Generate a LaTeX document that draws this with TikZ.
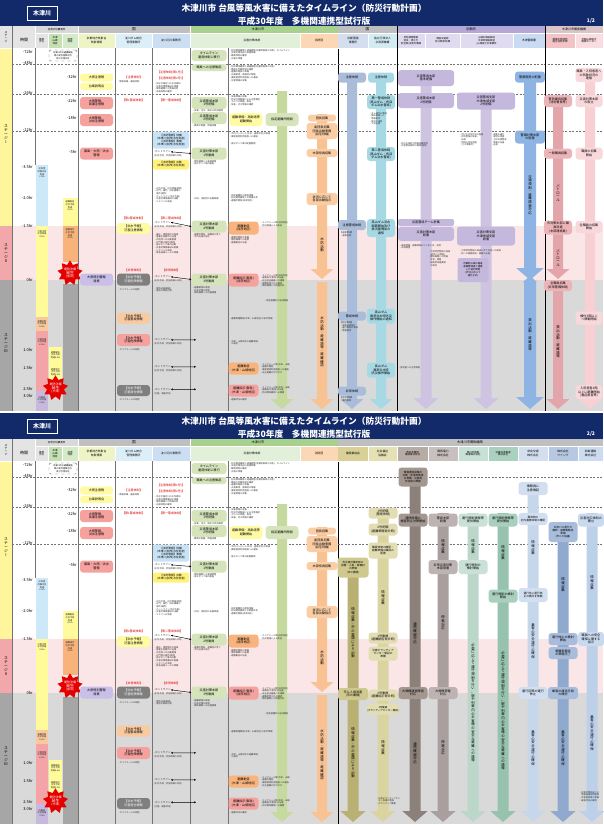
\documentclass[tikz,border=0pt]{standalone}
\usepackage{fontspec}
\setmainfont{Noto Sans CJK JP}
\usetikzlibrary{shapes.geometric,arrows.meta}

\definecolor{navy}{HTML}{122A6A}
\definecolor{sOneBar}{HTML}{FFF59A}
\definecolor{sTwoBg}{HTML}{FBE6E7}
\definecolor{sTwoBar}{HTML}{F2A7AA}
\definecolor{sThreeBg}{HTML}{D9D9D9}
\definecolor{sThreeBar}{HTML}{A6A6A6}
\definecolor{gLight}{HTML}{D9D9D9}
\definecolor{gGray}{HTML}{BFBFBF}
\definecolor{gGreen}{HTML}{A9D18E}
\definecolor{gPurple}{HTML}{B4A7D6}
\definecolor{gPink}{HTML}{D9C4C7}
\definecolor{hGray}{HTML}{E4E4E4}
\definecolor{hGreen}{HTML}{C5E0B3}
\definecolor{hGreenL}{HTML}{D5EAC8}
\definecolor{hYG}{HTML}{EEF4C6}
\definecolor{hCyan}{HTML}{DCEFF8}
\definecolor{hBlue}{HTML}{CCDFF2}
\definecolor{hLGreen}{HTML}{E2EFD9}
\definecolor{hOrange}{HTML}{FBD7B5}
\definecolor{hRoad}{HTML}{D5DEEF}
\definecolor{hWater}{HTML}{D3ECF3}
\definecolor{hPref}{HTML}{E1DBF0}
\definecolor{hPolice}{HTML}{C9DBF3}
\definecolor{hFire}{HTML}{F2C4C7}
\definecolor{hHosp}{HTML}{F9DDE0}
\definecolor{bYellow}{HTML}{FFFBA3}
\definecolor{bSalmon}{HTML}{F5A29F}
\definecolor{bLav}{HTML}{C9BFE8}
\definecolor{bGreen}{HTML}{D5E4BA}
\definecolor{bLBlue}{HTML}{C8E3F5}
\definecolor{bGold}{HTML}{FFF27A}
\definecolor{bDark}{HTML}{7F7F7F}
\definecolor{bPeach}{HTML}{F9C9A0}
\definecolor{bOrange}{HTML}{F8B47C}
\definecolor{aGreen}{HTML}{C6D99E}
\definecolor{aOrange}{HTML}{F9C293}
\definecolor{bOrangeL}{HTML}{FACDA5}
\definecolor{aRoad}{HTML}{A9BDDA}
\definecolor{aWater}{HTML}{A7D9E4}
\definecolor{aPref}{HTML}{CEC4E2}
\definecolor{bPref}{HTML}{C4B8DC}
\definecolor{aPolice}{HTML}{8DB4E2}
\definecolor{aFire}{HTML}{E4A5AA}
\definecolor{bFire}{HTML}{EBB4B8}
\definecolor{aHosp}{HTML}{F8D0D4}
\definecolor{bHosp}{HTML}{F9D8DB}
\definecolor{lvBlue}{HTML}{CDE8F8}
\definecolor{lvYellow}{HTML}{FFFB9A}
\definecolor{lvPeach}{HTML}{F9C99E}
\definecolor{lvPink}{HTML}{F4A3A7}
\definecolor{lvLilac}{HTML}{C7B9DD}
\definecolor{lvOrange}{HTML}{F8B37A}
\definecolor{lvGray}{HTML}{A6A6A6}
\definecolor{aOlive}{HTML}{B9B173}
\definecolor{bOlive}{HTML}{CFC88F}
\definecolor{hOlive}{HTML}{D8D097}
\definecolor{aKhaki}{HTML}{DAD4A0}
\definecolor{bKhaki}{HTML}{E3DDB3}
\definecolor{hKhaki}{HTML}{E6E1B5}
\definecolor{aTaupe}{HTML}{8C807B}
\definecolor{bTaupe}{HTML}{A3978F}
\definecolor{hTaupe}{HTML}{B7ABA6}
\definecolor{aMauve}{HTML}{A99F9F}
\definecolor{bMauve}{HTML}{BDB3B3}
\definecolor{hMauve}{HTML}{C8BFBF}
\definecolor{aMint}{HTML}{BBD7CA}
\definecolor{bMint}{HTML}{C9E1D6}
\definecolor{hMint}{HTML}{C8E1D6}
\definecolor{aTeal}{HTML}{96C2AE}
\definecolor{bTeal}{HTML}{A9CFBE}
\definecolor{hTeal}{HTML}{AAD1C0}
\definecolor{aPale}{HTML}{C7D7EB}
\definecolor{bPale}{HTML}{D2DFF0}
\definecolor{hPale}{HTML}{D3DFEF}
\definecolor{aSteel}{HTML}{8FA9CF}
\definecolor{bSteel}{HTML}{A8BDDB}
\definecolor{hSteel}{HTML}{B7C9E2}
\definecolor{aSky}{HTML}{BDD0EA}
\definecolor{bSky}{HTML}{C9D9EE}
\definecolor{hSky}{HTML}{CDDBEF}

\tikzset{
 rbox/.style={rounded corners=3pt, inner sep=0.2pt, align=center, text=black, font=\fontsize{3.1}{3.6}\selectfont},
 smalltxt/.style={anchor=north west, inner sep=0pt, align=left, text=black!80, font=\fontsize{2.2}{2.7}\selectfont},
 ctxt/.style={inner sep=0pt, align=center, text=black!85, font=\fontsize{2.2}{2.7}\selectfont},
 redlab/.style={inner sep=0pt, text=red!85!black, font=\fontsize{3}{3.4}\selectfont, align=center},
 hdtxt/.style={inner sep=0pt, align=center, font=\fontsize{2.8}{3.3}\selectfont},
 timelab/.style={anchor=east, inner sep=0pt, font=\fontsize{4}{4}\selectfont},
 vtx/.style={inner sep=0pt, font=\fontsize{3.4}{3.4}\selectfont},
 hotline/.style={{Stealth[length=2pt,width=2pt]}-{Stealth[length=2pt,width=2pt]}, line width=0.45pt},
 dashline/.style={dash pattern=on 2pt off 1.5pt, draw=black!55, line width=0.45pt},
 colline/.style={draw=black!55, line width=0.6pt},
 blkline/.style={draw=black, line width=0.8pt},
 burst/.style={star, star points=9, star point ratio=1.5, fill=red!90!black, draw=none, inner sep=0pt, minimum size=24pt, text=white, align=center, font=\fontsize{3}{3.3}\selectfont},
}

\newcounter{autoN}
\newcommand\kzrb[6]{\node[rbox,#1,minimum width=#4pt,minimum height=#5pt] (#2) at (#3) {#6};}
\newcommand\kztx[3]{\stepcounter{autoN}\node[smalltxt] (n\theautoN) at (#1,#2) {#3};}
\newcommand\kzct[3]{\stepcounter{autoN}\node[ctxt] (n\theautoN) at (#1,#2) {#3};}
\newcommand\kzarr[5]{\fill[#1] ({#2-#5},#3) -- ({#2+#5},#3) -- ({#2+#5},{#4-2*#5}) -- ({#2+2.3*#5},{#4-2*#5}) -- (#2,#4) -- ({#2-2.3*#5},{#4-2*#5}) -- ({#2-#5},{#4-2*#5}) -- cycle;}
\def\kzvtloop#1{\ifx\kzvtend#1\else\hbox to 1em{\hss#1\hss}\expandafter\kzvtloop\fi}
\newcommand\kzvtext[1]{\vbox{\baselineskip=1.06em\lineskiplimit=-20pt\lineskip=0pt\kzvtloop#1\kzvtend}}
\newcommand\kzvt[4]{\node[vtx,#1] (#2) at (#3) {\kzvtext{#4}};}

% ---------------- common left part of one page ----------------
\newcommand\kzleft[2]{%
 \fill[white] (0,26) rectangle (603,411);
 \fill[sTwoBg] (12,226) rectangle (603,280);
 \fill[sThreeBg] (12,280) rectangle (603,411);
 \fill[sOneBar] (0,48) rectangle (12,226);
 \fill[sTwoBar] (0,226) rectangle (12,280);
 \fill[sThreeBar] (0,280) rectangle (12,411);
 \kzvt{font=\fontsize{3.8}{3.8}\selectfont}{#1stA}{6,134}{ステージⅠ}
 \kzvt{font=\fontsize{3.8}{3.8}\selectfont}{#1stB}{6,253}{ステージⅡ}
 \kzvt{font=\fontsize{3.8}{3.8}\selectfont}{#1stC}{6,343}{ステージⅢ}
 % title bar
 \fill[navy] (0,0) rectangle (603,26);
 \node[draw=white, line width=0.6pt, text=white, font=\fontsize{6}{6}\selectfont\bfseries, minimum width=30pt, minimum height=14pt, inner sep=0pt] (#1logo) at (42,13) {木津川};
 \node[text=white, font=\fontsize{8.7}{12.5}\selectfont\bfseries, align=center, inner sep=0pt] (#1title) at (304,14.5) {木津川市\ 台風等風水害に備えたタイムライン（防災行動計画）\\平成30年度\quad 多機関連携型試行版};
 \node[text=white, font=\fontsize{5}{5}\selectfont\bfseries, inner sep=0pt] (#1pg) at (591,21) {#2};
 % header
 \fill[gLight] (0,26) rectangle (78,48);
 \fill[hGray] (0,26) rectangle (35,48);
 \fill[gGray] (78,26) rectangle (190,33);
 \fill[gGreen] (190,26) rectangle (338,33);
 \fill[hGray] (35,33) rectangle (48,48);
 \fill[hGreen] (48,33) rectangle (62,48);
 \fill[hGreenL] (62,33) rectangle (78,48);
 \fill[hYG] (78,33) rectangle (115,48);
 \fill[hCyan] (115,33) rectangle (152,48);
 \fill[hBlue] (152,33) rectangle (190,48);
 \fill[hLGreen] (190,33) rectangle (300,48);
 \fill[hOrange] (300,33) rectangle (338,48);
 \draw[white, line width=0.8pt] (12,26)--(12,48) (35,26)--(35,48) (78,26)--(78,48) (115,33)--(115,48) (152,33)--(152,48) (190,26)--(190,48) (300,33)--(300,48) (48,33)--(48,48) (62,33)--(62,48) (35,33)--(338,33) (0,48)--(338,48);
 \kzvt{font=\fontsize{2.8}{2.8}\selectfont}{#1hSt}{6,37}{ステージ}
 \node[hdtxt, font=\fontsize{4}{4}\selectfont] (#1hTime) at (24,40) {時間};
 \node[hdtxt, font=\fontsize{2.5}{2.5}\selectfont] (#1hKamo) at (56.5,29.5) {加茂水位観測所};
 \node[hdtxt, font=\fontsize{3.6}{3.6}\selectfont] (#1hKuni) at (134,29.5) {国};
 \node[hdtxt, font=\fontsize{3.2}{3.2}\selectfont] (#1hCity) at (258,29.5) {木津川市};
 \node[hdtxt, font=\fontsize{2.5}{2.9}\selectfont] (#1hKijun) at (41.5,40.5) {基準\\水位};
 \node[hdtxt, font=\fontsize{2.5}{2.9}\selectfont] (#1hKizu) at (55,40.5) {木津\\山城\\地区};
 \node[hdtxt, font=\fontsize{2.5}{2.9}\selectfont] (#1hKamoC) at (70,40.5) {加茂\\地区};
 \node[hdtxt] (#1hMet) at (96.5,40.5) {京都地方気象台\\気象情報};
 \node[hdtxt] (#1hDam) at (133.5,40.5) {淀川ダム統合\\管理事務所};
 \node[hdtxt] (#1hRiver) at (171,40.5) {淀川河川事務所};
 \node[hdtxt] (#1hHQ) at (252,40.5) {災害対策本部};
 \node[hdtxt] (#1hFire) at (319,40.5) {消防団};
 % lines
 \draw[colline] (12,26) -- (12,411);
 \draw[colline] (35,48) -- (35,165);
 \foreach \xx in {78,115,152,190,228} {\draw[colline] (\xx,48) -- (\xx,411);}
 \draw[blkline] (338,26) -- (338,411);
 \foreach \yy in {64,94,131} {\draw[dashline] (12,\yy) -- (603,\yy);}
 % time labels
 \node[timelab] (#1t1) at (33,52) {-72hr};
 \node[timelab] (#1t2) at (33,63) {-48hr};
 \node[timelab] (#1t3) at (77,77) {-32hr};
 \node[timelab] (#1t4) at (33,93) {-24hr};
 \node[timelab] (#1t5) at (77,101) {-22hr};
 \node[timelab] (#1t6) at (77,118) {-18hr};
 \node[timelab] (#1t7) at (33,130) {-12hr};
 \node[timelab] (#1t8) at (77,152) {-5hr};
 \node[timelab] (#1t9) at (33,167) {-3.5hr};
 \node[timelab] (#1t10) at (33,198) {-2.0hr};
 \node[timelab] (#1t11) at (33,226) {-1.5hr};
 \node[timelab] (#1t12) at (33,280) {0hr};
 \node[timelab] (#1t13) at (33,350) {1.0hr};
 \node[timelab] (#1t14) at (33,368) {1.5hr};
 \node[timelab] (#1t15) at (33,389) {2.5hr};
 \node[timelab] (#1t16) at (33,396) {3.0hr};
 % water level columns
 \node[draw=black!60, dashed, rounded corners=1.5pt, minimum width=28pt, minimum height=11pt, inner sep=0pt, align=center, font=\fontsize{2.2}{2.7}\selectfont] (#1crit) at (63,55.5) {木津川市の避難勧告\\等の発令基準水位\\及び予測水位};
 \fill[lvBlue] (36,165) rectangle (48,226);
 \kzct{42}{173}{水防団\\待機水位\\到達\\2.5m}
 \fill[lvYellow] (36,226) rectangle (48,317);
 \kzct{42}{234}{氾濫注意\\水位到達\\4.5m}
 \fill[lvPeach] (36,317) rectangle (48,331);
 \kzct{42}{324}{避難判断\\水位到達\\5.0m}
 \fill[lvPink] (36,331) rectangle (48,391);
 \kzct{42}{342}{氾濫危険\\水位到達\\6.0m}
 \fill[lvLilac] (36,391) rectangle (48,411);
 \kzct{42}{400}{計画高\\水位到達\\9.0m}
 \fill[lvYellow] (49,347) rectangle (62,381);
 \kzct{55.5}{355}{避難勧告\\水位予測\\到達8.6m}
 \kzct{55.5}{372}{避難指示\\水位予測\\到達9.0m}
 \fill[lvYellow] (63,198) rectangle (77.5,226);
 \kzct{70}{206}{避難勧告\\水位予測\\到達\\4.1m}
 \fill[lvOrange] (63,226) rectangle (77.5,262);
 \kzct{70}{234}{避難指示\\水位予測\\到達\\4.5m}
 \fill[lvGray] (63,284) rectangle (77.5,411);
 \node[burst] (#1burstA) at (70,273) {堤防決壊\\{\fontsize{4}{4}\selectfont 発生}\\(加茂)};
 \node[burst, minimum size=21pt] (#1burstB) at (55.5,388) {堤防決壊\\{\fontsize{4}{4}\selectfont 発生}\\(木津)};
 % meteorological
 \kzrb{fill=bYellow}{#1m1}{96.5,77.5}{33}{8}{大雨注意報}
 \kzrb{fill=bYellow}{#1m2}{96.5,86.5}{33}{7}{台風説明会}
 \kzrb{fill=bSalmon}{#1m3}{96.5,103}{33}{12}{大雨警報、\\高潮注意報}
 \kzrb{fill=bSalmon}{#1m4}{96.5,120}{33}{12}{大雨警報、\\洪水注意報}
 \kzrb{fill=bSalmon}{#1m5}{96.5,153.5}{33}{12}{暴風・大雨・洪水\\警報}
 \kzrb{fill=bLav}{#1m6}{96.5,279.5}{33}{12}{大雨特別警報\\発表}
 % dam office
 \node[redlab] (#1d1) at (133.5,77) {【注意体制】};
 \kztx{117}{80.5}{・情報収集・連絡体制}
 \node[redlab] (#1d2) at (133.5,100) {【第1警戒体制】};
 \node[redlab] (#1d3) at (133.5,218) {【第2警戒体制】};
 \kzrb{fill=bYellow}{#1d4}{133.5,228.5}{33}{11}{【洪水予報】\\氾濫注意情報}
 \node[redlab] (#1d5) at (133.5,270) {【非常体制】};
 \kzrb{fill=bDark,text=white}{#1d6}{133.5,279.5}{33}{12}{【洪水予報】\\氾濫危険情報}
 \kztx{119}{288}{-エリアメールの配信}
 \kzrb{fill=bPeach}{#1d7}{133.5,318}{33}{11}{【洪水予報】\\氾濫警戒情報}
 \kzrb{fill=bSalmon}{#1d8}{133.5,340}{33}{12}{【洪水予報】\\氾濫危険情報}
 \kztx{119}{348}{-エリアメールの配信}
 \kzrb{fill=bDark,text=white}{#1d9}{133.5,390.5}{33}{11}{【洪水予報】\\氾濫発生情報}
 \kztx{119}{398.5}{-エリアメールの配信}
 % city HQ boxes
 \kzrb{fill=bGreen}{#1q1}{209,55.5}{35}{11}{タイムライン\\運用体制に移行}
 \kzrb{fill=bGreen}{#1q2}{209,67.5}{35}{7}{職員への注意喚起}
 \kzrb{fill=bGreen}{#1q3}{209,103}{35}{12}{災害警戒本部\\1号配備}
 \kzrb{fill=bGreen}{#1q4}{209,118}{35}{12}{災害警戒本部\\2号配備}
 \kzrb{fill=bGreen}{#1q5}{209,153.5}{35}{12}{災害対策本部\\1号動員}
 \kzrb{fill=bGreen}{#1q6}{209,226.5}{35}{12}{災害対策本部\\2号動員}
 \kzrb{fill=bGreen}{#1q7}{209,279.5}{35}{12}{災害対策本部\\3号動員}
 \kztx{192}{109.5}{・気象、河川、降水の状況確認}
 \kztx{192}{124.5}{・職員の配置、情報収集}
 \kztx{192}{160}{・関係機関との連絡調整\\・排水ポンプ場の運転}
 \kztx{192}{197}{・水防・消防団の出動準備}
 \kztx{192}{233}{・避難所開設、避難者の受入\\・市内巡視の強化}
 \kztx{192}{286.5}{・避難誘導の実施\\・応急対策の実施\\・関係機関への応援要請}
 % river office
 \node[redlab] (#1r1) at (171,73) {【注意体制(第1号)】};
 \node[redlab] (#1r2) at (171,78.5) {【注意体制(第2号)】};
 \kztx{154}{82.5}{・洪水予報河川の水位周知\\・災害対策用機械の準備\\・関係機関との情報共有\\・巡視体制の確認}
 \node[redlab] (#1r3) at (171,100) {【第一警戒体制】};
 \kzrb{fill=bLBlue, rounded corners=2pt, font=\fontsize{2.7}{3.1}\selectfont}{#1r4}{171,140}{36}{17}{【水防警報】待機\\(木津川(加茂)水位到達)\\【水防警報】準備\\(木津川(加茂)水位到達)}
 \node[smalltxt, font=\fontsize{2.6}{2.6}\selectfont] (#1hl1) at (154,150.5) {-ホットライン};
 \draw[hotline] (#1hl1.east) -- (#1q5.west);
 \kztx{154}{154.5}{(水位予測、状況認識の共有)}
 \kzrb{fill=bGold, rounded corners=2pt, font=\fontsize{2.7}{3.1}\selectfont}{#1r5}{171,164.5}{36}{10}{【水防警報】出動\\(木津川(加茂)水位到達)}
 \kztx{154}{187}{・水位予測、水位情報(随時)\\・水門、樋門、排水機場の\\　操作(随時)\\・ホットライン(洪水予報)\\・災害対策用機械の出動\\・リエゾンの派遣}
 \node[redlab] (#1r6) at (171,218) {【第二警戒体制】};
 \node[smalltxt, font=\fontsize{2.6}{2.6}\selectfont] (#1hl2) at (154,221) {-ホットライン};
 \draw[hotline] (#1hl2.east) -- (#1q6.west);
 \kztx{154}{225}{(水位予測、状況認識の共有)}
 \kztx{154}{233}{・漏水、侵食箇所の監視\\・重要水防箇所の巡視\\・水防団への出動要請\\・水門等の操作(随時)\\・排水ポンプ車の出動\\・災害対策用機械の配備\\・リエゾンの派遣\\・緊急速報メールの準備}
 \node[redlab] (#1r7) at (171,270) {【非常体制】};
 \node[smalltxt, font=\fontsize{2.6}{2.6}\selectfont] (#1hl3) at (154,275.5) {-ホットライン};
 \draw[hotline] (#1hl3.east) -- (#1q7.west);
 \kztx{154}{279.5}{(水位予測、状況認識の共有)}
 \kztx{154}{287}{・堤防巡視(継続)\\・堤防の緊急対策}
 \node[smalltxt, font=\fontsize{2.6}{2.6}\selectfont] (#1hl4) at (154,338.5) {-ホットライン};
 \coordinate (#1hx4) at (196,339.8);
 \draw[hotline] (#1hl4.east) -- (#1hx4);
 \kztx{154}{342.5}{(水位予測、状況認識の共有)}
 \node[smalltxt, font=\fontsize{2.6}{2.6}\selectfont] (#1hl5) at (154,365.5) {-ホットライン};
 \coordinate (#1hx5) at (196,366.8);
 \draw[hotline] (#1hl5.east) -- (#1hx5);
 \kztx{154}{369.5}{(水位予測、状況認識の共有)}
 \node[smalltxt, font=\fontsize{2.6}{2.6}\selectfont] (#1hl6) at (154,388) {-ホットライン};
 \coordinate (#1hx6) at (196,389.3);
 \draw[hotline] (#1hl6.east) -- (#1hx6);
 \kztx{154}{392}{(氾濫、被害状況)}
 % city HQ text column and evacuation
 \kzarr{aGreen}{282}{91}{409}{5}
 \kzrb{fill=bYellow, rounded corners=3.5pt}{#1e1}{246,119.5}{33}{13}{避難準備・高齢者等\\避難開始}
 \kzrb{fill=bGreen, rounded corners=3.5pt}{#1e2}{282,119.5}{33}{13}{指定避難所開設}
 \kzrb{fill=bOrange}{#1e3}{243.5,228}{30}{13}{避難勧告\\(加茂地区)}
 \kzrb{fill=bSalmon}{#1e4}{243.5,280}{30}{13}{避難指示(緊急)\\(加茂地区)}
 \kzrb{fill=bOrange}{#1e5}{243.5,368.5}{30}{12}{避難勧告\\(木津・山城地区)}
 \kzrb{fill=bSalmon}{#1e6}{243.5,390.5}{30}{12}{避難指示(緊急)\\(木津・山城地区)}
 \kztx{229}{49}{・防災関係機関と連絡調整(気象情報等の共有)、タイムライン\\・災害対策本部の設置準備\\・職員体制の確認\\・広報の準備}
 \kztx{229}{65.5}{・防災関係機関と連絡調整(気象情報等の共有)\\・職員の参集体制の確認\\・避難所開設の準備\\・広報車両、資機材の準備\\・要配慮者利用施設への連絡\\・災害情報の収集}
 \kztx{229}{95.5}{・気象情報の収集\\・防災行政無線による注意喚起\\・土のうの準備、配布\\・気象、河川情報の確認}
 \kztx{229}{132.5}{・市内パトロール(水位・道路状況)の実施\\・要配慮者利用施設への連絡}
 \kztx{229}{142}{・排水ポンプ車の配置要請}
 \kztx{229}{194}{・指定避難所の開設準備\\・防災関係機関との情報共有\\・避難所開設(加茂地区)}
 \kztx{260}{221.5}{・エリアメール等(加茂地区)\\・防災無線による放送}
 \kztx{229}{236}{・避難所開設の準備\\・関係機関との連携\\・避難勧告の伝達}
 \kztx{260}{274}{・エリアメール等(加茂地区)\\・避難指示(緊急)の伝達\\・自主防災組織への連絡\\・避難者受入れの確認\\・関係機関との情報共有}
 \kztx{264}{299}{・指定避難所の追加開設}
 \kztx{229}{317}{・避難準備情報(木津・山城地区)の発令準備}
 \kztx{229}{340}{・木津、山城地区の避難準備\\　の検討}
 \kztx{260}{363}{・エリアメール等(木津・山城)\\・避難所開設\\・要配慮者利用施設への連絡\\・自主避難の呼びかけ}
 \kztx{260}{386}{・エリアメール等(木津・山城)\\・避難指示(緊急)の伝達\\・防災関係機関への要請}
 \kztx{229}{398}{・避難状況の確認}
 % fire brigade
 \kzarr{aOrange}{322}{114}{279}{5}
 \kzarr{aOrange}{322}{282}{409}{5}
 \kzrb{fill=bOrangeL}{#1f1}{322,118}{28}{7}{団長招集}
 \kzrb{fill=bOrangeL}{#1f2}{322,131}{31}{16}{副団長招集\\団長出動準備\\(自宅待機)}
 \kzrb{fill=bOrangeL}{#1f3}{322,153}{31}{8}{本部役員招集}
 \kzrb{fill=bOrangeL}{#1f4}{322,199}{31}{12}{状況に応じて\\各部出動指示}
 \kzvt{}{#1f5}{322,245}{水防活動}
 \kzvt{}{#1f6}{322,342}{水防活動・避難誘導・避難確認}
}

% ---------------- right part, page 1 ----------------
\newcommand\kzrightA{%
 \fill[gGray] (338,26) rectangle (397,33);
 \fill[gPurple] (397,26) rectangle (545,33);
 \fill[gPink] (545,26) rectangle (603,33);
 \fill[hRoad] (338,33) rectangle (368,48);
 \fill[hWater] (368,33) rectangle (397,48);
 \fill[hPref] (397,33) rectangle (513,48);
 \fill[hPolice] (513,33) rectangle (545,48);
 \fill[hFire] (545,33) rectangle (575,48);
 \fill[hHosp] (575,33) rectangle (603,48);
 \draw[white, line width=0.8pt] (368,33)--(368,48) (397,26)--(397,48) (425,33)--(425,48) (460,33)--(460,48) (513,33)--(513,48) (545,26)--(545,48) (575,33)--(575,48) (338,33)--(603,33) (338,48)--(603,48);
 \node[hdtxt, font=\fontsize{3.6}{3.6}\selectfont] (hKuniR) at (367.5,29.5) {国};
 \node[hdtxt, font=\fontsize{3.2}{3.2}\selectfont] (hPrefG) at (471,29.5) {京都府};
 \node[hdtxt, font=\fontsize{3}{3}\selectfont] (hRelA) at (574,29.5) {木津川市関係機関};
 \node[hdtxt] (hRoadT) at (353,40.5) {京都国道\\事務所};
 \node[hdtxt] (hWaterT) at (382.5,40.5) {独立行政法人\\水資源機構};
 \node[hdtxt, font=\fontsize{2.4}{2.8}\selectfont] (hPrefA) at (411,40.5) {府危機管理部\\防災・原子力\\安全課/災害対策課};
 \node[hdtxt, font=\fontsize{2.4}{2.8}\selectfont] (hPrefB) at (442.5,40.5) {建設交通部\\河川課/砂防課};
 \node[hdtxt, font=\fontsize{2.4}{2.8}\selectfont] (hPrefC) at (486.5,40.5) {山城広域振興局\\木津地域振興室\\/山城南土木事務所};
 \node[hdtxt] (hPolT) at (529,40.5) {木津警察署};
 \node[hdtxt, font=\fontsize{2.5}{2.9}\selectfont] (hFireT) at (560,40.5) {相楽中部消防\\組合消防本部};
 \node[hdtxt, font=\fontsize{2.5}{2.9}\selectfont] (hHospT) at (589,40.5) {京都山城総合\\医療センター};
 \draw[blkline] (397,26) -- (397,411);
 \draw[blkline] (545,26) -- (545,411);
 % road office
 \kzarr{aRoad}{352}{78}{409}{5}
 \kzrb{fill=aRoad}{ro1}{352,77.5}{28}{10}{注意体制}
 \kzrb{fill=aRoad}{ro2}{352,225}{28}{10}{注意警戒体制}
 \kztx{340}{231.5}{【道路警戒】\\・道路巡回}
 \kzrb{fill=aRoad}{ro3}{352,316}{28}{9}{警戒体制}
 \kztx{340}{321.5}{【防災警戒】\\・道路巡回強化\\・通行規制の準備\\・情報提供}
 \kzrb{fill=aRoad}{ro4}{352,391}{28}{9}{非常体制}
 \kztx{340}{396.5}{【非常体制】\\・通行規制}
 % water resources
 \kzarr{aWater}{381}{78}{409}{5}
 \kzrb{fill=aWater}{wa1}{381,77.5}{26}{10}{注意体制}
 \kzrb{fill=aWater}{wa2}{381,102}{28}{14}{第一警戒体制\\(高山ダム・布目\\ダム洪水警戒)}
 \kztx{369}{112}{・ダム操作の準備\\・関係機関への\\　情報提供\\・放流の通知\\・下流巡視}
 \kzrb{fill=aWater}{wa3}{381,154}{28}{14}{第二警戒体制\\(高山ダム・布目\\ダム洪水警戒)}
 \kzrb{fill=aWater}{wa4}{381,228}{28}{18}{高山ダム洪水\\調節開始及び\\放流量増加の\\通知}
 \kzrb{fill=aWater}{wa5}{381,316}{28}{15}{高山ダム\\異常洪水時防災\\操作開始の通知}
 \kzrb{fill=aWater}{wa6}{381,370}{28}{15}{高山ダム\\異常洪水時\\防災操作開始}
 \kztx{398}{366}{・放流量への注意喚起}
 % prefecture
 \kzarr{aPref}{426}{80}{409}{5.5}
 \kzarr{aPref}{486}{100}{409}{5.5}
 \kzrb{fill=bPref}{pf1}{426,78}{56}{16}{災害警戒本部\\基本配備}
 \kzrb{fill=bPref}{pf2}{426,100.5}{56}{15}{災害警戒本部\\2号配備}
 \kzrb{fill=bPref}{pf3}{486,101}{58}{17}{災害警戒支部\\木津地域支部\\2号配備}
 \kztx{399}{142}{・府の広域的な情報収集体制\\・災害警戒体制の確認(随時)}
 \kztx{459}{133}{・河川の水位状況の監視\\・水防警報の発表、\\　伝達\\・地域の状況把握\\　(土木事務所)}
 \kztx{491}{133}{・道路の通行\\　規制の実施\\・土砂災害警戒\\　情報の伝達\\・巡視}
 \kzrb{fill=bPref, rounded corners=2pt}{pf4}{426,222.5}{56}{7}{災害警戒チーム参集}
 \kzrb{fill=bPref}{pf5}{426,234}{56}{14}{災害対策本部\\設置}
 \kzrb{fill=bPref}{pf6}{486,236}{58}{19}{災害対策支部\\木津地域支部\\設置}
 \kztx{399}{244}{・被害情報、避難情報のとりまとめ、発信\\・広域調整}
 \kztx{428}{250.5}{・大雨特別警報の発表\\　(府民への周知)\\・関係機関との情報\\　共有、調整\\・自衛隊派遣要請\\　の検討}
 \kztx{459}{249.5}{・大雨特別警報の発表に伴う住民への周知\\・府への被害報告、要請の伝達}
 \kzrb{fill=bPref, rounded corners=2.5pt, font=\fontsize{2.4}{2.9}\selectfont}{pf7}{473,270}{31}{24}{京都府山城の国道\\道路管理者と連携\\した通行規制\\(状況に応じて\\通行止め)}
 % police
 \kzarr{aPolice}{530}{78}{280}{6}
 \kzarr{aPolice}{530}{282}{409}{6}
 \fill[aPolice] (523,282) -- (537,282) -- (530,276) -- cycle;
 \kzrb{fill=aPolice}{po1}{530,77}{30}{11}{警察態勢の配置}
 \kzrb{fill=aPolice}{po2}{530,137}{30}{13}{警備対策本部\\の設置}
 \kzvt{}{po3}{530,195}{交通規制・避難誘導対応}
 \kzvt{}{po4}{530,335}{救出活動・避難誘導}
 % fire HQ
 \kzarr{aFire}{558}{98}{279}{5}
 \kzarr{aFire}{558}{282}{409}{5}
 \kzrb{fill=bFire}{fi1}{558,101}{28}{12}{警防課長招集\\(消防署長等)}
 \kzrb{fill=bFire}{fi2}{558,153.5}{28}{10}{一般職員招集}
 \kzvt{}{fi3}{558,193}{パトロール}
 \kzrb{fill=bFire}{fi4}{558,227.5}{28}{14}{市対策本部に職\\員派遣\\(本部連絡員)}
 \kzvt{}{fi5}{558,258}{パトロール}
 \kzrb{fill=bFire}{fi6}{558,285.5}{28}{11}{全職員招集\\(非常警備体制)}
 \kzvt{}{fi7}{558,342}{救出活動・避難誘導}
 % hospital
 \kzarr{aHosp}{590}{70}{409}{5}
 \kzrb{fill=bHosp}{ho1}{589,75}{27}{14}{職員・入院患者へ\\の気象状況の\\連絡}
 \kzrb{fill=bHosp}{ho2}{589,101}{27}{12}{災害対策本部\\の設立}
 \kzrb{fill=bHosp}{ho3}{589,153.5}{27}{12}{職員の招集\\開始}
 \kzrb{fill=bHosp}{ho4}{589,227}{27}{12}{全職員の招集\\開始}
 \kzrb{fill=bHosp}{ho5}{589,318}{27}{13}{横付3階以上\\へ移動開始}
 \kzrb{fill=bHosp}{ho6}{589,392}{27}{14}{入院患者2階\\以上に避難開始\\(重症患者等)}
}

% ---------------- right part, page 2 ----------------
\newcommand\kzrightB{%
 \fill[gGray] (338,26) rectangle (603,33);
 \node[hdtxt, font=\fontsize{3.2}{3.2}\selectfont] (hRelB) at (470,29.5) {木津川市関係機関};
 \fill[hOlive] (338,33) rectangle (368,48);
 \fill[hKhaki] (368,33) rectangle (397,48);
 \fill[hTaupe] (397,33) rectangle (428,48);
 \fill[hMauve] (428,33) rectangle (458,48);
 \fill[hMint] (458,33) rectangle (488,48);
 \fill[hTeal] (488,33) rectangle (518,48);
 \fill[hPale] (518,33) rectangle (548,48);
 \fill[hSteel] (548,33) rectangle (578,48);
 \fill[hSky] (578,33) rectangle (603,48);
 \draw[white, line width=0.8pt] (338,33)--(603,33) (338,48)--(603,48) (368,33)--(368,48) (397,33)--(397,48) (428,33)--(428,48) (458,33)--(458,48) (488,33)--(488,48) (518,33)--(518,48) (548,33)--(548,48) (578,33)--(578,48);
 \node[hdtxt] (hB1) at (353,40.5) {建設業協会};
 \node[hdtxt] (hB2) at (382.5,40.5) {社会福祉\\協議会};
 \node[hdtxt, font=\fontsize{2.5}{2.9}\selectfont] (hB3) at (412.5,40.5) {西日本電信\\電話株式会社};
 \node[hdtxt] (hB4) at (443,40.5) {関西電力\\株式会社};
 \node[hdtxt, font=\fontsize{2.5}{2.9}\selectfont] (hB5) at (473,40.5) {西日本旅客\\鉄道株式会社};
 \node[hdtxt, font=\fontsize{2.5}{2.9}\selectfont] (hB6) at (503,40.5) {近畿日本鉄道\\株式会社};
 \node[hdtxt] (hB7) at (533,40.5) {奈良交通\\株式会社};
 \node[hdtxt] (hB8) at (563,40.5) {株式会社\\ウイング};
 \node[hdtxt] (hB9) at (590.5,40.5) {和束運輸\\株式会社};
 % construction association
 \kzarr{aOlive}{353}{156}{409}{5.5}
 \kzrb{fill=bOlive, font=\fontsize{2.6}{3.1}\selectfont}{cA1}{353,154.5}{31}{20}{市災害対策本部の\\設置・人員・資機材\\の準備\\(市の要請)}
 \kzvt{}{cA2}{353,220}{情報収集・市の要請により出動}
 \kzrb{fill=bOlive}{cA3}{353,281}{30}{12}{市に人員派遣\\(市の要請)}
 \kzvt{}{cA4}{353,340}{情報収集・市の要請により出動}
 % social welfare council
 \kzarr{aKhaki}{383}{96}{409}{5.5}
 \kzrb{fill=bKhaki}{cB1}{383,100}{29}{11}{1号配備\\(警戒体制)}
 \kzrb{fill=bKhaki}{cB2}{383,116.5}{29}{12}{2号配備\\(避難準備発令時)}
 \kzrb{fill=bKhaki, font=\fontsize{2.7}{3.2}\selectfont}{cB3}{383,137.5}{29}{16}{職員体制の確認・\\避難準備の職員の\\配置}
 \kzvt{}{cB4}{383,185}{情報収集}
 \kzrb{fill=bKhaki}{cB5}{383,225}{29}{11}{1号動員\\(避難勧告発令時)}
 \kzrb{fill=bKhaki, font=\fontsize{2.7}{3.2}\selectfont}{cB6}{383,240.5}{29}{14}{災害ボランティア\\センター開設の\\準備}
 \kzrb{fill=bKhaki}{cB7}{383,282}{29}{11}{2号動員\\(避難指示発令時)}
 \kzrb{fill=bKhaki, font=\fontsize{2.5}{3}\selectfont}{cB8}{383,296}{29}{11}{3号動員\\(ボランティアセンター開設)}
 \kzvt{}{cB9}{383,335}{情報収集}
 \kztx{376}{384}{・災害ボランティアセン\\　ター設置の準備\\・ボランティア募集}
 % NTT west
 \kzarr{aTaupe}{415}{62}{409}{5.5}
 \kzrb{fill=bTaupe, font=\fontsize{2.6}{3.1}\selectfont}{cC1}{413,64}{29}{19}{情報通信設備の\\点検・非常用電源\\の準備・災害用\\伝言板の準備}
 \kzrb{fill=bTaupe}{cC2}{413,107}{29}{13}{通信設備の\\被害防止対策開始}
 \kzvt{}{cC3}{415,220}{通信確保対応}
 \kzrb{fill=bTaupe}{cC4}{413,280}{29}{12}{大規模通信障害\\対応}
 \kzvt{}{cC5}{415,340}{通信確保対応}
 % Kansai electric
 \kzarr{aMauve}{443}{100}{409}{5.5}
 \kzrb{fill=bMauve}{cD1}{443,107}{29}{13}{警戒本部\\設置}
 \kzvt{}{cD2}{443,134}{情報収集}
 \kzrb{fill=bMauve}{cD3}{443,154}{29}{14}{非常災害対策\\本部設置}
 \kzvt{}{cD4}{443,210}{停電対応}
 \kzrb{fill=bMauve}{cD5}{443,280}{29}{12}{大規模停電\\対応}
 \kzvt{}{cD6}{443,335}{停電対応}
 % JR west
 \kzarr{aMint}{473}{100}{409}{5.5}
 \kzrb{fill=bMint}{cE1}{473,107}{29}{13}{運行規制情報等\\提供開始}
 \kzvt{}{cE2}{473,134}{情報収集}
 \kzrb{fill=bMint}{cE3}{473,154}{29}{14}{運行規制の\\検討開始}
 \kzvt{}{cE4}{473,290}{必要に応じて運行規制を行い、駅や列車内のお客様の安全な避難への誘導}
 % Kintetsu
 \kzarr{aTeal}{503}{100}{409}{5.5}
 \kzrb{fill=bTeal}{cF1}{503,107}{29}{13}{運行規制情報等\\提供開始}
 \kzvt{}{cF2}{503,140}{情報収集}
 \kzrb{fill=bTeal}{cF3}{503,183}{29}{13}{運行規制の検討\\開始}
 \kzvt{}{cF4}{503,298}{必要に応じて運行規制を行い、駅や列車内のお客様の安全な避難への誘導}
 % Nara kotsu
 \kzarr{aPale}{533}{75}{409}{5.5}
 \kzrb{fill=bPale}{cG1}{533,75.5}{29}{13}{情報員に\\注意喚起}
 \kzrb{fill=bPale, font=\fontsize{2.7}{3.2}\selectfont}{cG2}{533,106}{29}{12}{異常時の\\社内連絡体制の確認}
 \kzvt{}{cG3}{533,135}{情報収集}
 \kzrb{fill=bPale, font=\fontsize{2.7}{3.2}\selectfont}{cG4}{533,182}{29}{14}{運行先に運行休\\止の検討を依頼}
 \kzvt{}{cG5}{533,228}{乗客の安全運行の確保}
 \kzrb{fill=bPale}{cG6}{533,280}{29}{12}{運行区間の運行\\休止}
 \kzvt{}{cG7}{533,335}{乗客の安全運行の確保}
 % Wing
 \kzarr{aSteel}{563}{115}{409}{5.5}
 \kzrb{fill=bSteel, font=\fontsize{2.6}{3.1}\selectfont}{cH1}{563,119}{29}{20}{共用バス運行の\\臨時・避難者輸送\\準備\\(市との協議)}
 \kzvt{}{cH2}{563,172}{情報収集}
 \kzrb{fill=bSteel}{cH3}{563,226}{29}{12}{運行休止の検討\\開始}
 \kzrb{fill=bSteel}{cH4}{563,240}{29}{12}{避難者輸送\\の準備完了}
 \kzrb{fill=bSteel}{cH5}{563,280}{30}{12}{乗客の運送手段\\の検討}
 \kzvt{}{cH6}{563,335}{乗客の安全運行の確保}
 % Wazuka transport
 \kzarr{aSky}{592}{100}{409}{5.5}
 \kzrb{fill=bSky}{cI1}{591,107}{26}{13}{災害対応体制の\\確立}
 \kzvt{}{cI2}{592,170}{情報収集}
 \kzrb{fill=bSky}{cI3}{591,226}{26}{14}{職員への安全\\確保に関する\\指示}
 \kzvt{}{cI4}{592,320}{乗客の安全運行の確保}
 \kztx{579}{378}{・災害対策本部との\\　情報連絡体制確保\\・災害復旧等の準備\\・被害状況の確認}
}

\begin{document}
\begin{tikzpicture}[x=1pt,y=-1pt]
\useasboundingbox (0,0) rectangle (603,825);
\fill[white] (0,0) rectangle (603,825);
\begin{scope}
\kzleft{p}{1/2}
\kzrightA
\end{scope}
\begin{scope}[shift={(0,413)}]
\kzleft{q}{2/2}
\kzrightB
\end{scope}
\end{tikzpicture}
\end{document}
